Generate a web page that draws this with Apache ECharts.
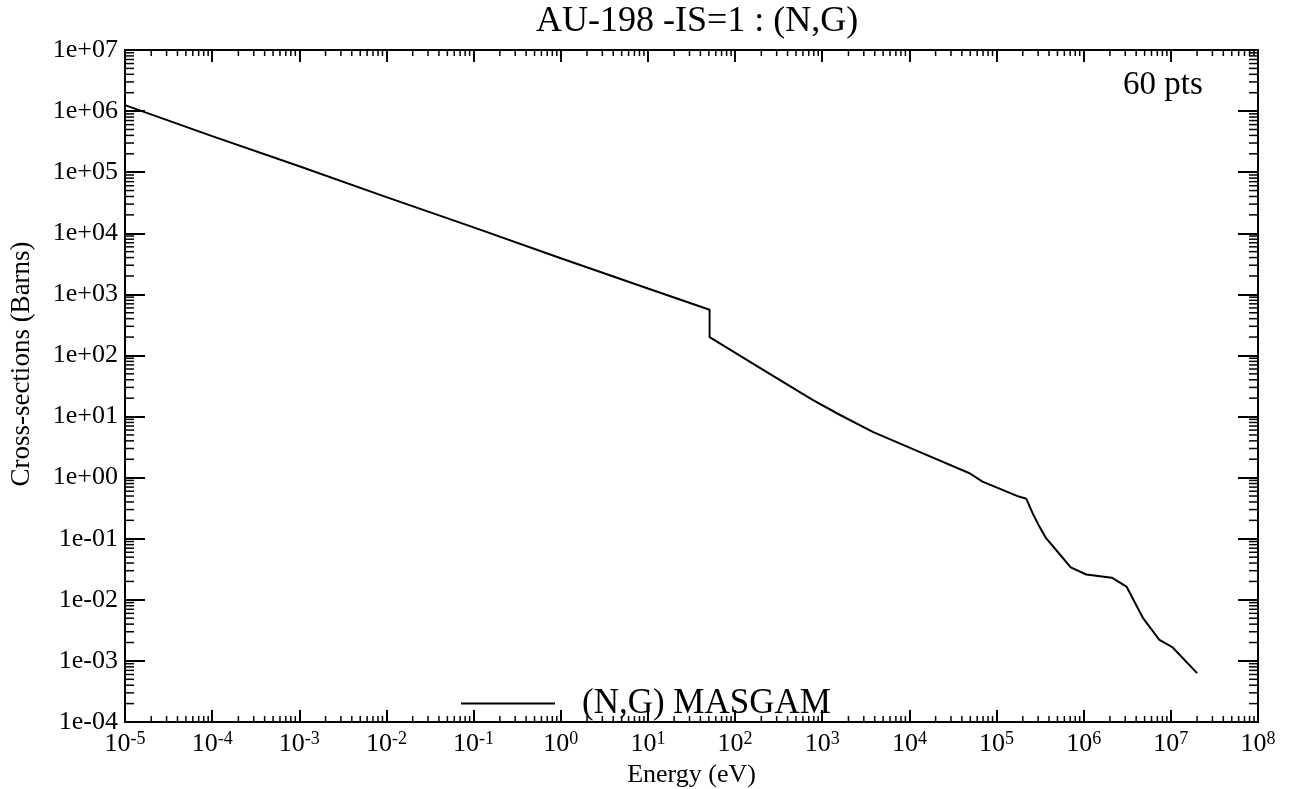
<!DOCTYPE html>
<html><head><meta charset="utf-8">
<script src="https://cdn.jsdelivr.net/npm/echarts@6/dist/echarts.min.js"></script>
<style>html,body{margin:0;padding:0;background:#fff}#c{width:1289px;height:789px}</style>
</head><body><div id="c"></div>
<script>
// Data (energy in eV, cross-section in barns)
const energy = [1e-5, 1e-4, 1e-3, 1e-2, 1e-1, 1, 10, 51, 51, 229, 776, 1585, 3800, 14300, 49000, 69000, 1.8e5, 2.2e5, 2.6e5, 3.1e5, 3.7e5, 4.8e5, 7.1e5, 1.07e6, 2.1e6, 3.1e6, 4.8e6, 7.4e6, 1.05e7, 2.0e7];
const sigma  = [1.25e6, 3.9e5, 1.25e5, 3.9e4, 1.25e4, 3.9e3, 1.25e3, 560, 200, 54, 18.7, 10.7, 5.6, 2.5, 1.18, 0.86, 0.49, 0.45, 0.26, 0.158, 0.102, 0.066, 0.034, 0.026, 0.023, 0.0165, 0.005, 0.0022, 0.00166, 6.3e-4];
const seriesName = '(N,G) MASGAM';
const titleText = 'AU-198 -IS=1 : (N,G)';
const ptsText = '60 pts';
const xExpTicks = [-5, -4, -3, -2, -1, 0, 1, 2, 3, 4, 5, 6, 7, 8];
const yExpTicks = [-4, -3, -2, -1, 0, 1, 2, 3, 4, 5, 6, 7];
const minorFactors = [2, 3, 4, 5, 6, 7, 8, 9];

const X_MIN = xExpTicks[0], X_MAX = xExpTicks[xExpTicks.length - 1];
const Y_MIN = yExpTicks[0], Y_MAX = yExpTicks[yExpTicks.length - 1];

const lineData = energy.map((e, i) => [Math.log10(e), Math.log10(sigma[i])]);

const xMinor = [];
for (let k = X_MIN; k < X_MAX; k++) minorFactors.forEach(m => xMinor.push([k + Math.log10(m), Y_MIN]));
const yMinor = [];
for (let k = Y_MIN; k < Y_MAX; k++) minorFactors.forEach(m => yMinor.push([X_MIN, k + Math.log10(m)]));

const FONT = 'Liberation Serif';
function yLab(v) {
  const a = Math.abs(Math.round(v));
  return '1e' + (v < 0 ? '-' : '+') + (a < 10 ? '0' : '') + a;
}
function xLab(v) {
  return '{a|10}{b|' + Math.round(v) + '}';
}

const chart = echarts.init(document.getElementById('c'), null, {renderer: 'canvas'});
const axisLineStyle = {show: true, onZero: false, lineStyle: {color: '#000', width: 2}};

chart.setOption({
  animation: false,
  backgroundColor: '#fff',
  title: [
    {text: titleText, left: 531, top: -1, textStyle: {fontFamily: FONT, fontSize: 36, fontWeight: 'normal', color: '#000'}},
    {text: ptsText, left: 1118, top: 64, textStyle: {fontFamily: FONT, fontSize: 33, fontWeight: 'normal', color: '#000'}}
  ],
  legend: {
    data: [seriesName], left: 456, top: 681,
    icon: 'rect', itemWidth: 94, itemHeight: 2,
    textStyle: {fontFamily: FONT, fontSize: 35, color: '#000', padding: [0, 0, 0, 22]}
  },
  grid: {left: 125, right: 31, top: 50, bottom: 67, containLabel: false, outerBoundsMode: 'none'},
  xAxis: [
    {type: 'value', min: X_MIN, max: X_MAX, interval: 1, position: 'bottom',
     axisLine: axisLineStyle, splitLine: {show: false},
     axisTick: {inside: true, length: 12, lineStyle: {color: '#000', width: 2}},
     axisLabel: {formatter: xLab, margin: 8, color: '#000',
       rich: {a: {fontFamily: FONT, fontSize: 26, color: '#000'},
              b: {fontFamily: FONT, fontSize: 18, color: '#000', verticalAlign: 'bottom', padding: [0, 0, 10, 0]}}},
     name: 'Energy (eV)', nameLocation: 'middle', nameGap: 37,
     nameTextStyle: {fontFamily: FONT, fontSize: 26, color: '#000'}},
    {type: 'value', min: X_MIN, max: X_MAX, interval: 1, position: 'top',
     axisLine: axisLineStyle, splitLine: {show: false}, axisLabel: {show: false},
     axisTick: {inside: true, length: 12, lineStyle: {color: '#000', width: 2}}}
  ],
  yAxis: [
    {type: 'value', min: Y_MIN, max: Y_MAX, interval: 1, position: 'left',
     axisLine: axisLineStyle, splitLine: {show: false},
     axisTick: {inside: true, length: 20, lineStyle: {color: '#000', width: 2}},
     axisLabel: {formatter: yLab, margin: 7, fontFamily: FONT, fontSize: 26, color: '#000'},
     name: 'Cross-sections (Barns)', nameLocation: 'middle', nameGap: 90, nameRotate: 90,
     nameTextStyle: {fontFamily: FONT, fontSize: 27, color: '#000', padding: [0, 0, 0, 44]}},
    {type: 'value', min: Y_MIN, max: Y_MAX, interval: 1, position: 'right',
     axisLine: axisLineStyle, splitLine: {show: false}, axisLabel: {show: false},
     axisTick: {inside: true, length: 20, lineStyle: {color: '#000', width: 2}}}
  ],
  series: [
    {name: seriesName, type: 'line', data: lineData, xAxisIndex: 0, yAxisIndex: 0,
     showSymbol: false, symbol: 'none', smooth: false,
     lineStyle: {color: '#000', width: 2}, itemStyle: {color: '#000'}},
    {name: 'xminor', type: 'custom', data: xMinor, xAxisIndex: 0, yAxisIndex: 0, clip: false, silent: true,
     encode: {x: 0, y: 1},
     renderItem: function (params, api) {
       const v = api.value(0);
       const b = api.coord([v, Y_MIN]);
       const t = api.coord([v, Y_MAX]);
       return {type: 'group', children: [
         {type: 'line', shape: {x1: b[0], y1: b[1], x2: b[0], y2: b[1] - 6}, style: {stroke: '#000', lineWidth: 1.5}},
         {type: 'line', shape: {x1: t[0], y1: t[1], x2: t[0], y2: t[1] + 6}, style: {stroke: '#000', lineWidth: 1.5}}
       ]};
     }},
    {name: 'yminor', type: 'custom', data: yMinor, xAxisIndex: 0, yAxisIndex: 0, clip: false, silent: true,
     encode: {x: 0, y: 1},
     renderItem: function (params, api) {
       const v = api.value(1);
       const l = api.coord([X_MIN, v]);
       const r = api.coord([X_MAX, v]);
       return {type: 'group', children: [
         {type: 'line', shape: {x1: l[0], y1: l[1], x2: l[0] + 9, y2: l[1]}, style: {stroke: '#000', lineWidth: 1.5}},
         {type: 'line', shape: {x1: r[0], y1: r[1], x2: r[0] - 9, y2: r[1]}, style: {stroke: '#000', lineWidth: 1.5}}
       ]};
     }}
  ]
});
</script>
</body></html>
